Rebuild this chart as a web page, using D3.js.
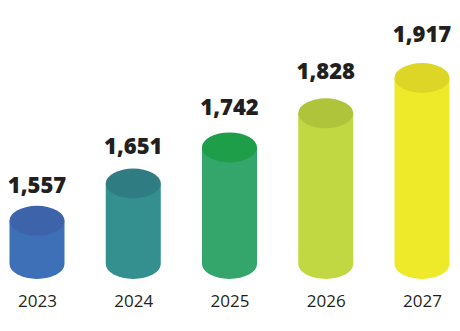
<!DOCTYPE html>
<html>
<head>
<meta charset="utf-8">
<script src="https://cdn.jsdelivr.net/npm/d3@7"></script>
<style>
  html, body { margin: 0; padding: 0; background: #ffffff; }
  svg { display: block; }
</style>
</head>
<body>
<svg id="chart" width="460" height="331"></svg>
<script>
// Yearly totals shown as cylinders
const years = ["2023", "2024", "2025", "2026", "2027"];
const values = [1557, 1651, 1742, 1828, 1917];
const bodyColors = ["#3d70b7", "#33908f", "#34a56b", "#c2d842", "#efea29"];
const capColors = ["#3d63ab", "#2f7d82", "#1f9e49", "#b0c43b", "#ddd626"];

const svg = d3.select("#chart");

const rx = 27.5;   // cylinder radius (horizontal)
const ry = 15;     // ellipse depth (vertical)
const baseY = 264; // centre of the bottom ellipse

const x = d3.scalePoint().domain(years).range([37, 422]);
const y = d3.scaleLinear().domain([1448, 1917]).range([baseY, 78]);

const fmt = d3.format(",");

const data = years.map((yr, i) => ({ year: yr, value: values[i], body: bodyColors[i], cap: capColors[i] }));

const g = svg.append("g")
  .selectAll("g.cyl")
  .data(data)
  .join("g")
  .attr("class", "cyl");

// Body: side rectangle closed by the lower half of the bottom ellipse
g.append("path")
  .attr("fill", d => d.body)
  .attr("d", d => {
    const cx = x(d.year), top = y(d.value);
    return `M${cx - rx},${top} L${cx - rx},${baseY} ` +
           `A${rx},${ry} 0 0 0 ${cx + rx},${baseY} ` +
           `L${cx + rx},${top} Z`;
  });

// Top cap
g.append("ellipse")
  .attr("cx", d => x(d.year))
  .attr("cy", d => y(d.value))
  .attr("rx", rx)
  .attr("ry", ry)
  .attr("fill", d => d.cap);

// Value labels above each cylinder
g.append("text")
  .attr("x", d => x(d.year))
  .attr("y", d => {
    const top = y(d.value);
    return top - 25 - 0.06 * (baseY - top);
  })
  .attr("text-anchor", "middle")
  .attr("font-family", "'Open Sans', sans-serif")
  .attr("font-weight", 800)
  .attr("font-size", 22)
  .attr("fill", "#231f20")
  .text(d => fmt(d.value));

// Year labels along the bottom
const xAxis = d3.axisBottom(x).tickSize(0).tickPadding(0);
const axisG = svg.append("g")
  .attr("transform", "translate(0,295)")
  .call(xAxis);
axisG.select(".domain").remove();
axisG.selectAll("text")
  .attr("dy", "0.71em")
  .attr("font-family", "'Open Sans', sans-serif")
  .attr("font-size", 17)
  .attr("fill", "#231f20");
</script>
</body>
</html>
